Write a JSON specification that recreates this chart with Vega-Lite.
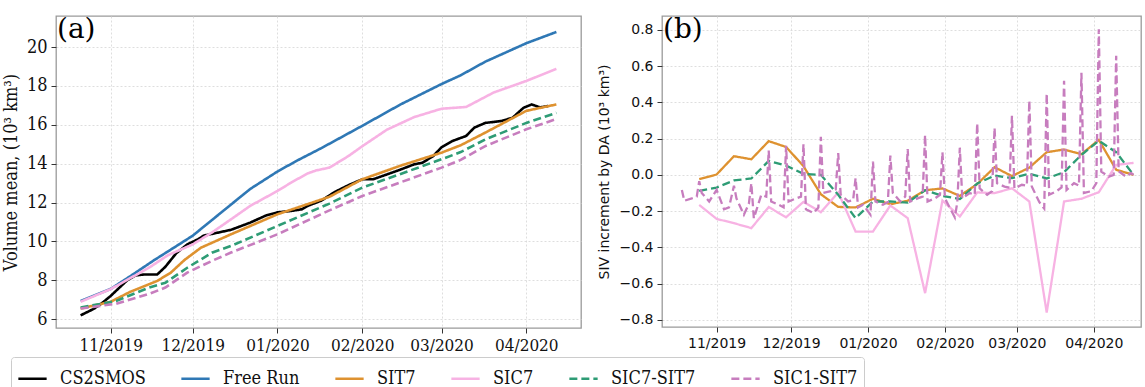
{
  "$schema": "https://vega.github.io/schema/vega-lite/v6.json",
  "background": "white",
  "padding": {"left": 1, "top": 15, "right": 5, "bottom": 0},
  "datasets": {
    "a": [
      {"s": "CS2SMOS", "d": "2019-10-21", "v": 6.2},
      {"s": "CS2SMOS", "d": "2019-10-26", "v": 6.55},
      {"s": "CS2SMOS", "d": "2019-10-29", "v": 6.85},
      {"s": "CS2SMOS", "d": "2019-11-01", "v": 7.2},
      {"s": "CS2SMOS", "d": "2019-11-04", "v": 7.6},
      {"s": "CS2SMOS", "d": "2019-11-07", "v": 8.0},
      {"s": "CS2SMOS", "d": "2019-11-10", "v": 8.25},
      {"s": "CS2SMOS", "d": "2019-11-13", "v": 8.3},
      {"s": "CS2SMOS", "d": "2019-11-18", "v": 8.3},
      {"s": "CS2SMOS", "d": "2019-11-21", "v": 8.7},
      {"s": "CS2SMOS", "d": "2019-11-25", "v": 9.4},
      {"s": "CS2SMOS", "d": "2019-11-29", "v": 9.85},
      {"s": "CS2SMOS", "d": "2019-12-03", "v": 10.12},
      {"s": "CS2SMOS", "d": "2019-12-05", "v": 10.3},
      {"s": "CS2SMOS", "d": "2019-12-10", "v": 10.45},
      {"s": "CS2SMOS", "d": "2019-12-15", "v": 10.6},
      {"s": "CS2SMOS", "d": "2019-12-22", "v": 10.97},
      {"s": "CS2SMOS", "d": "2019-12-28", "v": 11.35},
      {"s": "CS2SMOS", "d": "2020-01-01", "v": 11.5},
      {"s": "CS2SMOS", "d": "2020-01-06", "v": 11.57},
      {"s": "CS2SMOS", "d": "2020-01-10", "v": 11.66},
      {"s": "CS2SMOS", "d": "2020-01-12", "v": 11.83},
      {"s": "CS2SMOS", "d": "2020-01-17", "v": 12.1},
      {"s": "CS2SMOS", "d": "2020-01-22", "v": 12.55},
      {"s": "CS2SMOS", "d": "2020-01-27", "v": 12.9},
      {"s": "CS2SMOS", "d": "2020-02-01", "v": 13.2},
      {"s": "CS2SMOS", "d": "2020-02-05", "v": 13.2},
      {"s": "CS2SMOS", "d": "2020-02-10", "v": 13.45},
      {"s": "CS2SMOS", "d": "2020-02-15", "v": 13.7},
      {"s": "CS2SMOS", "d": "2020-02-20", "v": 13.97},
      {"s": "CS2SMOS", "d": "2020-02-23", "v": 14.05},
      {"s": "CS2SMOS", "d": "2020-02-27", "v": 14.4},
      {"s": "CS2SMOS", "d": "2020-03-01", "v": 14.85},
      {"s": "CS2SMOS", "d": "2020-03-05", "v": 15.17},
      {"s": "CS2SMOS", "d": "2020-03-10", "v": 15.43},
      {"s": "CS2SMOS", "d": "2020-03-13", "v": 15.86},
      {"s": "CS2SMOS", "d": "2020-03-17", "v": 16.1},
      {"s": "CS2SMOS", "d": "2020-03-20", "v": 16.15},
      {"s": "CS2SMOS", "d": "2020-03-23", "v": 16.2},
      {"s": "CS2SMOS", "d": "2020-03-27", "v": 16.37},
      {"s": "CS2SMOS", "d": "2020-03-31", "v": 16.88},
      {"s": "CS2SMOS", "d": "2020-04-03", "v": 17.05},
      {"s": "CS2SMOS", "d": "2020-04-06", "v": 16.9},
      {"s": "CS2SMOS", "d": "2020-04-09", "v": 16.97},
      {"s": "Free Run", "d": "2019-10-21", "v": 6.94},
      {"s": "Free Run", "d": "2019-11-01", "v": 7.56},
      {"s": "Free Run", "d": "2019-11-08", "v": 8.2},
      {"s": "Free Run", "d": "2019-11-17", "v": 9.05},
      {"s": "Free Run", "d": "2019-11-26", "v": 9.85},
      {"s": "Free Run", "d": "2019-12-01", "v": 10.3},
      {"s": "Free Run", "d": "2019-12-08", "v": 11.1},
      {"s": "Free Run", "d": "2019-12-15", "v": 11.9},
      {"s": "Free Run", "d": "2019-12-22", "v": 12.7},
      {"s": "Free Run", "d": "2020-01-01", "v": 13.6},
      {"s": "Free Run", "d": "2020-01-08", "v": 14.15},
      {"s": "Free Run", "d": "2020-01-17", "v": 14.8},
      {"s": "Free Run", "d": "2020-02-01", "v": 15.95},
      {"s": "Free Run", "d": "2020-02-15", "v": 17.05},
      {"s": "Free Run", "d": "2020-03-01", "v": 18.1},
      {"s": "Free Run", "d": "2020-03-08", "v": 18.55},
      {"s": "Free Run", "d": "2020-03-17", "v": 19.25},
      {"s": "Free Run", "d": "2020-04-01", "v": 20.2},
      {"s": "Free Run", "d": "2020-04-12", "v": 20.78},
      {"s": "SIT7", "d": "2019-10-21", "v": 6.55},
      {"s": "SIT7", "d": "2019-11-01", "v": 6.9},
      {"s": "SIT7", "d": "2019-11-08", "v": 7.4},
      {"s": "SIT7", "d": "2019-11-18", "v": 7.97},
      {"s": "SIT7", "d": "2019-11-23", "v": 8.4},
      {"s": "SIT7", "d": "2019-11-28", "v": 9.05},
      {"s": "SIT7", "d": "2019-12-04", "v": 9.68},
      {"s": "SIT7", "d": "2019-12-15", "v": 10.37},
      {"s": "SIT7", "d": "2020-01-01", "v": 11.4},
      {"s": "SIT7", "d": "2020-01-20", "v": 12.3},
      {"s": "SIT7", "d": "2020-02-01", "v": 13.2},
      {"s": "SIT7", "d": "2020-02-15", "v": 13.9},
      {"s": "SIT7", "d": "2020-03-01", "v": 14.57},
      {"s": "SIT7", "d": "2020-03-08", "v": 14.95},
      {"s": "SIT7", "d": "2020-03-17", "v": 15.6},
      {"s": "SIT7", "d": "2020-04-01", "v": 16.72},
      {"s": "SIT7", "d": "2020-04-12", "v": 17.05},
      {"s": "SIC7", "d": "2019-10-21", "v": 6.9},
      {"s": "SIC7", "d": "2019-11-01", "v": 7.55},
      {"s": "SIC7", "d": "2019-11-08", "v": 8.1},
      {"s": "SIC7", "d": "2019-11-15", "v": 8.65},
      {"s": "SIC7", "d": "2019-11-22", "v": 9.3},
      {"s": "SIC7", "d": "2019-12-01", "v": 9.85},
      {"s": "SIC7", "d": "2019-12-08", "v": 10.46},
      {"s": "SIC7", "d": "2019-12-15", "v": 11.14},
      {"s": "SIC7", "d": "2019-12-22", "v": 11.83},
      {"s": "SIC7", "d": "2020-01-01", "v": 12.6},
      {"s": "SIC7", "d": "2020-01-06", "v": 13.03},
      {"s": "SIC7", "d": "2020-01-12", "v": 13.5},
      {"s": "SIC7", "d": "2020-01-15", "v": 13.65},
      {"s": "SIC7", "d": "2020-01-20", "v": 13.8},
      {"s": "SIC7", "d": "2020-01-27", "v": 14.4},
      {"s": "SIC7", "d": "2020-02-01", "v": 14.9},
      {"s": "SIC7", "d": "2020-02-10", "v": 15.75},
      {"s": "SIC7", "d": "2020-02-20", "v": 16.4},
      {"s": "SIC7", "d": "2020-03-01", "v": 16.83},
      {"s": "SIC7", "d": "2020-03-10", "v": 16.92},
      {"s": "SIC7", "d": "2020-03-20", "v": 17.66},
      {"s": "SIC7", "d": "2020-04-01", "v": 18.26},
      {"s": "SIC7", "d": "2020-04-12", "v": 18.88},
      {"s": "SIC7-SIT7", "d": "2019-10-21", "v": 6.6},
      {"s": "SIC7-SIT7", "d": "2019-11-03", "v": 6.94},
      {"s": "SIC7-SIT7", "d": "2019-11-15", "v": 7.63},
      {"s": "SIC7-SIT7", "d": "2019-11-21", "v": 7.88},
      {"s": "SIC7-SIT7", "d": "2019-11-29", "v": 8.65},
      {"s": "SIC7-SIT7", "d": "2019-12-08", "v": 9.42},
      {"s": "SIC7-SIT7", "d": "2019-12-15", "v": 9.77},
      {"s": "SIC7-SIT7", "d": "2020-01-01", "v": 10.8},
      {"s": "SIC7-SIT7", "d": "2020-01-20", "v": 11.95},
      {"s": "SIC7-SIT7", "d": "2020-02-01", "v": 12.77},
      {"s": "SIC7-SIT7", "d": "2020-03-01", "v": 14.23},
      {"s": "SIC7-SIT7", "d": "2020-03-08", "v": 14.6},
      {"s": "SIC7-SIT7", "d": "2020-03-17", "v": 15.25},
      {"s": "SIC7-SIT7", "d": "2020-04-01", "v": 16.1},
      {"s": "SIC7-SIT7", "d": "2020-04-12", "v": 16.62},
      {"s": "SIC1-SIT7", "d": "2019-10-21", "v": 6.55},
      {"s": "SIC1-SIT7", "d": "2019-11-03", "v": 6.8},
      {"s": "SIC1-SIT7", "d": "2019-11-15", "v": 7.3},
      {"s": "SIC1-SIT7", "d": "2019-11-21", "v": 7.63},
      {"s": "SIC1-SIT7", "d": "2019-11-29", "v": 8.4},
      {"s": "SIC1-SIT7", "d": "2019-12-08", "v": 9.0},
      {"s": "SIC1-SIT7", "d": "2019-12-15", "v": 9.43},
      {"s": "SIC1-SIT7", "d": "2020-01-01", "v": 10.37},
      {"s": "SIC1-SIT7", "d": "2020-01-20", "v": 11.6},
      {"s": "SIC1-SIT7", "d": "2020-02-01", "v": 12.34},
      {"s": "SIC1-SIT7", "d": "2020-03-01", "v": 13.8},
      {"s": "SIC1-SIT7", "d": "2020-03-08", "v": 14.2},
      {"s": "SIC1-SIT7", "d": "2020-03-17", "v": 14.91},
      {"s": "SIC1-SIT7", "d": "2020-04-01", "v": 15.77},
      {"s": "SIC1-SIT7", "d": "2020-04-12", "v": 16.3}
    ],
    "b": [
      {"s": "SIT7", "d": "2019-10-25", "v": -0.024},
      {"s": "SIT7", "d": "2019-11-01", "v": 0.002},
      {"s": "SIT7", "d": "2019-11-08", "v": 0.103},
      {"s": "SIT7", "d": "2019-11-15", "v": 0.086},
      {"s": "SIT7", "d": "2019-11-22", "v": 0.186},
      {"s": "SIT7", "d": "2019-11-29", "v": 0.154},
      {"s": "SIT7", "d": "2019-12-06", "v": 0.048},
      {"s": "SIT7", "d": "2019-12-13", "v": -0.107},
      {"s": "SIT7", "d": "2019-12-20", "v": -0.177},
      {"s": "SIT7", "d": "2019-12-27", "v": -0.18},
      {"s": "SIT7", "d": "2020-01-03", "v": -0.132},
      {"s": "SIT7", "d": "2020-01-10", "v": -0.162},
      {"s": "SIT7", "d": "2020-01-17", "v": -0.143},
      {"s": "SIT7", "d": "2020-01-24", "v": -0.085},
      {"s": "SIT7", "d": "2020-01-31", "v": -0.075},
      {"s": "SIT7", "d": "2020-02-07", "v": -0.116},
      {"s": "SIT7", "d": "2020-02-14", "v": -0.051},
      {"s": "SIT7", "d": "2020-02-21", "v": 0.042},
      {"s": "SIT7", "d": "2020-02-28", "v": -0.007},
      {"s": "SIT7", "d": "2020-03-06", "v": 0.04},
      {"s": "SIT7", "d": "2020-03-13", "v": 0.125},
      {"s": "SIT7", "d": "2020-03-20", "v": 0.14},
      {"s": "SIT7", "d": "2020-03-27", "v": 0.114},
      {"s": "SIT7", "d": "2020-04-03", "v": 0.193},
      {"s": "SIT7", "d": "2020-04-10", "v": 0.028},
      {"s": "SIT7", "d": "2020-04-17", "v": 0.0},
      {"s": "SIC7", "d": "2019-10-25", "v": -0.166},
      {"s": "SIC7", "d": "2019-11-01", "v": -0.243},
      {"s": "SIC7", "d": "2019-11-08", "v": -0.267},
      {"s": "SIC7", "d": "2019-11-15", "v": -0.294},
      {"s": "SIC7", "d": "2019-11-22", "v": -0.178},
      {"s": "SIC7", "d": "2019-11-29", "v": -0.234},
      {"s": "SIC7", "d": "2019-12-06", "v": -0.149},
      {"s": "SIC7", "d": "2019-12-13", "v": -0.206},
      {"s": "SIC7", "d": "2019-12-20", "v": -0.097},
      {"s": "SIC7", "d": "2019-12-27", "v": -0.313},
      {"s": "SIC7", "d": "2020-01-03", "v": -0.313},
      {"s": "SIC7", "d": "2020-01-10", "v": -0.169},
      {"s": "SIC7", "d": "2020-01-17", "v": -0.239},
      {"s": "SIC7", "d": "2020-01-24", "v": -0.653},
      {"s": "SIC7", "d": "2020-01-31", "v": -0.142},
      {"s": "SIC7", "d": "2020-02-07", "v": -0.23},
      {"s": "SIC7", "d": "2020-02-14", "v": -0.097},
      {"s": "SIC7", "d": "2020-02-21", "v": -0.101},
      {"s": "SIC7", "d": "2020-02-28", "v": -0.074},
      {"s": "SIC7", "d": "2020-03-06", "v": -0.147},
      {"s": "SIC7", "d": "2020-03-13", "v": -0.76},
      {"s": "SIC7", "d": "2020-03-20", "v": -0.147},
      {"s": "SIC7", "d": "2020-03-27", "v": -0.132},
      {"s": "SIC7", "d": "2020-04-03", "v": -0.096},
      {"s": "SIC7", "d": "2020-04-10", "v": 0.055},
      {"s": "SIC7", "d": "2020-04-17", "v": 0.066},
      {"s": "SIC7-SIT7", "d": "2019-10-25", "v": -0.088},
      {"s": "SIC7-SIT7", "d": "2019-11-01", "v": -0.07},
      {"s": "SIC7-SIT7", "d": "2019-11-08", "v": -0.031},
      {"s": "SIC7-SIT7", "d": "2019-11-15", "v": -0.02},
      {"s": "SIC7-SIT7", "d": "2019-11-22", "v": 0.077},
      {"s": "SIC7-SIT7", "d": "2019-11-29", "v": 0.051},
      {"s": "SIC7-SIT7", "d": "2019-12-06", "v": 0.006},
      {"s": "SIC7-SIT7", "d": "2019-12-13", "v": 0.0},
      {"s": "SIC7-SIT7", "d": "2019-12-20", "v": -0.11},
      {"s": "SIC7-SIT7", "d": "2019-12-27", "v": -0.239},
      {"s": "SIC7-SIT7", "d": "2020-01-03", "v": -0.147},
      {"s": "SIC7-SIT7", "d": "2020-01-10", "v": -0.147},
      {"s": "SIC7-SIT7", "d": "2020-01-17", "v": -0.153},
      {"s": "SIC7-SIT7", "d": "2020-01-24", "v": -0.085},
      {"s": "SIC7-SIT7", "d": "2020-01-31", "v": -0.116},
      {"s": "SIC7-SIT7", "d": "2020-02-07", "v": -0.134},
      {"s": "SIC7-SIT7", "d": "2020-02-14", "v": -0.048},
      {"s": "SIC7-SIT7", "d": "2020-02-21", "v": -0.004},
      {"s": "SIC7-SIT7", "d": "2020-02-28", "v": -0.018},
      {"s": "SIC7-SIT7", "d": "2020-03-06", "v": 0.006},
      {"s": "SIC7-SIT7", "d": "2020-03-13", "v": -0.02},
      {"s": "SIC7-SIT7", "d": "2020-03-20", "v": 0.015},
      {"s": "SIC7-SIT7", "d": "2020-03-27", "v": 0.11},
      {"s": "SIC7-SIT7", "d": "2020-04-03", "v": 0.188},
      {"s": "SIC7-SIT7", "d": "2020-04-10", "v": 0.125},
      {"s": "SIC7-SIT7", "d": "2020-04-17", "v": 0.0},
      {"s": "SIC1-SIT7", "d": "2019-10-18", "v": -0.083},
      {"s": "SIC1-SIT7", "d": "2019-10-19", "v": -0.143},
      {"s": "SIC1-SIT7", "d": "2019-10-22", "v": -0.13},
      {"s": "SIC1-SIT7", "d": "2019-10-24", "v": -0.12},
      {"s": "SIC1-SIT7", "d": "2019-10-25", "v": -0.035},
      {"s": "SIC1-SIT7", "d": "2019-10-26", "v": -0.1},
      {"s": "SIC1-SIT7", "d": "2019-10-29", "v": -0.147},
      {"s": "SIC1-SIT7", "d": "2019-11-01", "v": -0.083},
      {"s": "SIC1-SIT7", "d": "2019-11-04", "v": -0.19},
      {"s": "SIC1-SIT7", "d": "2019-11-06", "v": -0.18},
      {"s": "SIC1-SIT7", "d": "2019-11-08", "v": -0.06},
      {"s": "SIC1-SIT7", "d": "2019-11-09", "v": -0.13},
      {"s": "SIC1-SIT7", "d": "2019-11-12", "v": -0.22},
      {"s": "SIC1-SIT7", "d": "2019-11-14", "v": -0.16},
      {"s": "SIC1-SIT7", "d": "2019-11-15", "v": -0.046},
      {"s": "SIC1-SIT7", "d": "2019-11-16", "v": -0.24},
      {"s": "SIC1-SIT7", "d": "2019-11-19", "v": -0.11},
      {"s": "SIC1-SIT7", "d": "2019-11-21", "v": -0.12},
      {"s": "SIC1-SIT7", "d": "2019-11-22", "v": 0.134},
      {"s": "SIC1-SIT7", "d": "2019-11-23", "v": -0.147},
      {"s": "SIC1-SIT7", "d": "2019-11-26", "v": -0.165},
      {"s": "SIC1-SIT7", "d": "2019-11-28", "v": -0.18},
      {"s": "SIC1-SIT7", "d": "2019-11-29", "v": 0.16},
      {"s": "SIC1-SIT7", "d": "2019-11-30", "v": -0.147},
      {"s": "SIC1-SIT7", "d": "2019-12-03", "v": -0.13},
      {"s": "SIC1-SIT7", "d": "2019-12-05", "v": -0.12},
      {"s": "SIC1-SIT7", "d": "2019-12-06", "v": 0.17},
      {"s": "SIC1-SIT7", "d": "2019-12-07", "v": -0.19},
      {"s": "SIC1-SIT7", "d": "2019-12-10", "v": -0.21},
      {"s": "SIC1-SIT7", "d": "2019-12-12", "v": -0.18},
      {"s": "SIC1-SIT7", "d": "2019-12-13", "v": 0.21},
      {"s": "SIC1-SIT7", "d": "2019-12-14", "v": -0.1},
      {"s": "SIC1-SIT7", "d": "2019-12-17", "v": -0.09},
      {"s": "SIC1-SIT7", "d": "2019-12-19", "v": -0.08},
      {"s": "SIC1-SIT7", "d": "2019-12-20", "v": 0.12},
      {"s": "SIC1-SIT7", "d": "2019-12-21", "v": -0.11},
      {"s": "SIC1-SIT7", "d": "2019-12-24", "v": -0.147},
      {"s": "SIC1-SIT7", "d": "2019-12-26", "v": -0.14},
      {"s": "SIC1-SIT7", "d": "2019-12-27", "v": -0.018},
      {"s": "SIC1-SIT7", "d": "2019-12-28", "v": -0.18},
      {"s": "SIC1-SIT7", "d": "2019-12-30", "v": -0.165},
      {"s": "SIC1-SIT7", "d": "2020-01-02", "v": -0.22},
      {"s": "SIC1-SIT7", "d": "2020-01-03", "v": 0.074},
      {"s": "SIC1-SIT7", "d": "2020-01-04", "v": -0.147},
      {"s": "SIC1-SIT7", "d": "2020-01-07", "v": -0.165},
      {"s": "SIC1-SIT7", "d": "2020-01-09", "v": -0.15},
      {"s": "SIC1-SIT7", "d": "2020-01-10", "v": 0.107},
      {"s": "SIC1-SIT7", "d": "2020-01-11", "v": -0.1},
      {"s": "SIC1-SIT7", "d": "2020-01-14", "v": -0.147},
      {"s": "SIC1-SIT7", "d": "2020-01-16", "v": -0.12},
      {"s": "SIC1-SIT7", "d": "2020-01-17", "v": 0.143},
      {"s": "SIC1-SIT7", "d": "2020-01-18", "v": -0.147},
      {"s": "SIC1-SIT7", "d": "2020-01-21", "v": -0.13},
      {"s": "SIC1-SIT7", "d": "2020-01-23", "v": -0.12},
      {"s": "SIC1-SIT7", "d": "2020-01-24", "v": 0.22},
      {"s": "SIC1-SIT7", "d": "2020-01-25", "v": -0.147},
      {"s": "SIC1-SIT7", "d": "2020-01-28", "v": -0.13},
      {"s": "SIC1-SIT7", "d": "2020-01-30", "v": -0.11},
      {"s": "SIC1-SIT7", "d": "2020-01-31", "v": 0.125},
      {"s": "SIC1-SIT7", "d": "2020-02-01", "v": -0.13},
      {"s": "SIC1-SIT7", "d": "2020-02-05", "v": -0.235},
      {"s": "SIC1-SIT7", "d": "2020-02-06", "v": -0.15},
      {"s": "SIC1-SIT7", "d": "2020-02-07", "v": 0.15},
      {"s": "SIC1-SIT7", "d": "2020-02-08", "v": -0.13},
      {"s": "SIC1-SIT7", "d": "2020-02-11", "v": -0.1},
      {"s": "SIC1-SIT7", "d": "2020-02-13", "v": -0.11},
      {"s": "SIC1-SIT7", "d": "2020-02-14", "v": 0.285},
      {"s": "SIC1-SIT7", "d": "2020-02-15", "v": -0.075},
      {"s": "SIC1-SIT7", "d": "2020-02-18", "v": -0.11},
      {"s": "SIC1-SIT7", "d": "2020-02-20", "v": -0.09},
      {"s": "SIC1-SIT7", "d": "2020-02-21", "v": 0.26},
      {"s": "SIC1-SIT7", "d": "2020-02-22", "v": -0.046},
      {"s": "SIC1-SIT7", "d": "2020-02-25", "v": -0.065},
      {"s": "SIC1-SIT7", "d": "2020-02-27", "v": -0.07},
      {"s": "SIC1-SIT7", "d": "2020-02-28", "v": 0.326},
      {"s": "SIC1-SIT7", "d": "2020-02-29", "v": -0.075},
      {"s": "SIC1-SIT7", "d": "2020-03-03", "v": -0.055},
      {"s": "SIC1-SIT7", "d": "2020-03-05", "v": -0.06},
      {"s": "SIC1-SIT7", "d": "2020-03-06", "v": 0.41},
      {"s": "SIC1-SIT7", "d": "2020-03-07", "v": -0.064},
      {"s": "SIC1-SIT7", "d": "2020-03-10", "v": -0.15},
      {"s": "SIC1-SIT7", "d": "2020-03-12", "v": -0.186},
      {"s": "SIC1-SIT7", "d": "2020-03-13", "v": 0.449},
      {"s": "SIC1-SIT7", "d": "2020-03-14", "v": -0.11},
      {"s": "SIC1-SIT7", "d": "2020-03-17", "v": -0.09},
      {"s": "SIC1-SIT7", "d": "2020-03-19", "v": -0.07},
      {"s": "SIC1-SIT7", "d": "2020-03-20", "v": 0.52},
      {"s": "SIC1-SIT7", "d": "2020-03-21", "v": -0.083},
      {"s": "SIC1-SIT7", "d": "2020-03-24", "v": -0.046},
      {"s": "SIC1-SIT7", "d": "2020-03-26", "v": -0.06},
      {"s": "SIC1-SIT7", "d": "2020-03-27", "v": 0.563},
      {"s": "SIC1-SIT7", "d": "2020-03-28", "v": -0.1},
      {"s": "SIC1-SIT7", "d": "2020-03-31", "v": -0.09},
      {"s": "SIC1-SIT7", "d": "2020-04-02", "v": -0.046},
      {"s": "SIC1-SIT7", "d": "2020-04-03", "v": 0.804},
      {"s": "SIC1-SIT7", "d": "2020-04-04", "v": 0.018},
      {"s": "SIC1-SIT7", "d": "2020-04-07", "v": -0.01},
      {"s": "SIC1-SIT7", "d": "2020-04-09", "v": 0.0},
      {"s": "SIC1-SIT7", "d": "2020-04-10", "v": 0.657},
      {"s": "SIC1-SIT7", "d": "2020-04-11", "v": 0.02},
      {"s": "SIC1-SIT7", "d": "2020-04-14", "v": -0.01},
      {"s": "SIC1-SIT7", "d": "2020-04-16", "v": 0.01},
      {"s": "SIC1-SIT7", "d": "2020-04-17", "v": 0.0}
    ]
  },
  "spacing": 81,
  "bounds": "flush",
  "resolve": {"scale": {"color": "shared", "strokeDash": "shared"}, "legend": {"color": "shared", "strokeDash": "shared"}},
  "hconcat": [
    {
      "width": 525,
      "height": 312,
      "layer": [
        {
          "data": {"name": "a"},
          "mark": {"type": "line", "strokeWidth": 2.6},
          "encoding": {
            "x": {
              "field": "d", "type": "temporal",
              "scale": {"type": "utc", "domain": [{"year": 2019, "month": 10, "date": 12, "utc": true}, {"year": 2020, "month": 4, "date": 21, "utc": true}]},
              "axis": {
                "title": null, "format": "%m/%Y", "labelOverlap": false,
                "values": [{"year": 2019, "month": 11, "date": 1, "utc": true}, {"year": 2019, "month": 12, "date": 1, "utc": true}, {"year": 2020, "month": 1, "date": 1, "utc": true}, {"year": 2020, "month": 2, "date": 1, "utc": true}, {"year": 2020, "month": 3, "date": 1, "utc": true}, {"year": 2020, "month": 4, "date": 1, "utc": true}],
                "labelFont": "DejaVu Serif Condensed, DejaVu Serif", "labelFontSize": 17
              }
            },
            "y": {
              "field": "v", "type": "quantitative",
              "scale": {"domain": [5.55, 21.6], "nice": false, "zero": false},
              "axis": {
                "title": "Volume mean, (10³ km³)", "values": [6, 8, 10, 12, 14, 16, 18, 20], "labelOverlap": false,
                "labelFont": "DejaVu Serif Condensed, DejaVu Serif", "labelFontSize": 18,
                "titleFont": "DejaVu Serif Condensed, DejaVu Serif", "titleFontSize": 18, "titlePadding": 6
              }
            },
            "color": {
              "field": "s", "type": "nominal",
              "scale": {"domain": ["CS2SMOS", "Free Run", "SIT7", "SIC7", "SIC7-SIT7", "SIC1-SIT7"], "range": ["#000000", "#2f78b5", "#de9230", "#f7b2e3", "#2e9c75", "#c77dbe"]},
              "legend": {"title": null}
            },
            "strokeDash": {
              "field": "s", "type": "nominal",
              "scale": {"domain": ["CS2SMOS", "Free Run", "SIT7", "SIC7", "SIC7-SIT7", "SIC1-SIT7"], "range": [[1, 0], [1, 0], [1, 0], [1, 0], [8, 4], [8, 4]]},
              "legend": {"title": null}
            }
          }
        },
        {
          "data": {"values": [{"t": "(a)"}]},
          "mark": {"type": "text", "align": "left", "baseline": "top", "font": "DejaVu Serif", "fontSize": 28, "dx": 1, "dy": 0, "color": "black"},
          "encoding": {
            "x": {"datum": {"year": 2019, "month": 10, "date": 12, "utc": true}, "type": "temporal"},
            "y": {"datum": 21.6, "type": "quantitative"},
            "text": {"field": "t"}
          }
        }
      ]
    },
    {
      "width": 479,
      "height": 311,
      "layer": [
        {
          "data": {"name": "b"},
          "mark": {"type": "line", "strokeWidth": 2.3},
          "encoding": {
            "x": {
              "field": "d", "type": "temporal",
              "scale": {"type": "utc", "domain": [{"year": 2019, "month": 10, "date": 10, "utc": true}, {"year": 2020, "month": 4, "date": 20, "utc": true}]},
              "axis": {
                "title": null, "format": "%m/%Y", "labelOverlap": false,
                "values": [{"year": 2019, "month": 11, "date": 1, "utc": true}, {"year": 2019, "month": 12, "date": 1, "utc": true}, {"year": 2020, "month": 1, "date": 1, "utc": true}, {"year": 2020, "month": 2, "date": 1, "utc": true}, {"year": 2020, "month": 3, "date": 1, "utc": true}, {"year": 2020, "month": 4, "date": 1, "utc": true}],
                "labelFont": "DejaVu Sans", "labelFontSize": 14
              }
            },
            "y": {
              "field": "v", "type": "quantitative",
              "scale": {"domain": [-0.84, 0.877], "nice": false, "zero": false},
              "axis": {
                "title": "SIV increment by DA (10³ km³)", "values": [-0.8, -0.6, -0.4, -0.2, 0, 0.2, 0.4, 0.6, 0.8], "format": ".1f",
                "labelOverlap": false, "labelFlush": false,
                "labelFont": "DejaVu Sans", "labelFontSize": 14,
                "titleFont": "DejaVu Sans", "titleFontSize": 14, "titlePadding": 8
              }
            },
            "color": {"field": "s", "type": "nominal", "legend": {"title": null}},
            "strokeDash": {"field": "s", "type": "nominal", "legend": {"title": null}}
          }
        },
        {
          "data": {"values": [{"t": "(b)"}]},
          "mark": {"type": "text", "align": "left", "baseline": "top", "font": "DejaVu Serif", "fontSize": 28, "dx": 1, "dy": 0, "color": "black"},
          "encoding": {
            "x": {
              "datum": {"year": 2019, "month": 10, "date": 10, "utc": true}, "type": "temporal",
              "axis": {
                "title": null, "format": "%m/%Y", "labelOverlap": false,
                "values": [{"year": 2019, "month": 11, "date": 1, "utc": true}, {"year": 2019, "month": 12, "date": 1, "utc": true}, {"year": 2020, "month": 1, "date": 1, "utc": true}, {"year": 2020, "month": 2, "date": 1, "utc": true}, {"year": 2020, "month": 3, "date": 1, "utc": true}, {"year": 2020, "month": 4, "date": 1, "utc": true}],
                "labelFont": "DejaVu Sans", "labelFontSize": 14
              }
            },
            "y": {
              "datum": 0.877, "type": "quantitative",
              "axis": {
                "title": "SIV increment by DA (10³ km³)", "values": [-0.8, -0.6, -0.4, -0.2, 0, 0.2, 0.4, 0.6, 0.8], "format": ".1f",
                "labelOverlap": false, "labelFlush": false,
                "labelFont": "DejaVu Sans", "labelFontSize": 14,
                "titleFont": "DejaVu Sans", "titleFontSize": 14, "titlePadding": 8
              }
            },
            "text": {"field": "t"}
          }
        }
      ]
    }
  ],
  "config": {
    "view": {"stroke": "#9a9a9a", "strokeWidth": 1.3},
    "axis": {
      "domain": false, "tickColor": "#333333", "tickSize": 5, "labelColor": "#111111", "titleColor": "#111111",
      "titleFontWeight": "normal", "gridColor": "#d6d6d6", "gridDash": [2, 2], "gridWidth": 0.8, "labelPadding": 4,
      "labelOverlap": false
    },
    "legend": {
      "orient": "none", "legendX": -45, "legendY": 341, "direction": "horizontal",
      "symbolType": "stroke", "symbolSize": 800, "symbolStrokeWidth": 2.6,
      "labelFont": "DejaVu Serif Condensed, DejaVu Serif", "labelFontSize": 18, "labelColor": "#111111",
      "labelOffset": 12, "columnPadding": 30, "padding": 6,
      "strokeColor": "#cccccc", "fillColor": "white", "cornerRadius": 3
    }
  }
}
